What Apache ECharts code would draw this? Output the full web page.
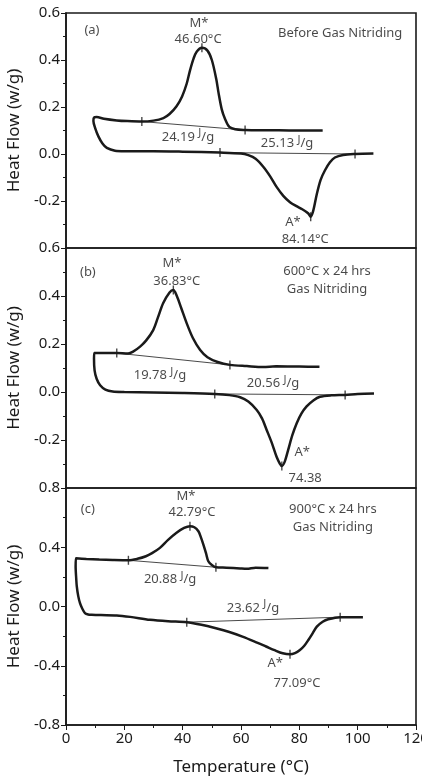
<!DOCTYPE html>
<html>
<head>
<meta charset="utf-8">
<script src="https://cdn.jsdelivr.net/npm/echarts@6/dist/echarts.min.js"></script>
<style>
  html, body { margin: 0; padding: 0; background: #fff; }
  #chart { width: 422px; height: 779px; }
</style>
</head>
<body>
<div id="chart"></div>
<script>
// (a) Before gas nitriding: cooling loop then heating, [T, heat flow]
const loopA = [
    [88.0, 0.100], [80, 0.100], [73, 0.101], [66, 0.101], [61.4, 0.102], [58, 0.105],
    [56, 0.115], [54.5, 0.15], [53.4, 0.19], [52.3, 0.26], [51.5, 0.32], [50.0, 0.40],
    [48.5, 0.44], [46.6, 0.452], [44.8, 0.435], [43.7, 0.405], [42.5, 0.355], [41.4, 0.30],
    [39.8, 0.245], [37.9, 0.203], [35.5, 0.17], [33.4, 0.153], [30, 0.142], [26.0, 0.138],
    [21, 0.14], [17.4, 0.143], [13, 0.15], [10.5, 0.157], [9.6, 0.155], [9.4, 0.14],
    [10.0, 0.11], [11.1, 0.075], [12.5, 0.045], [14, 0.026], [16.8, 0.014], [20, 0.012],
    [30, 0.012], [40, 0.010], [52.8, 0.006], [60, 0.002], [62.5, -0.005], [65, -0.02],
    [67.7, -0.055], [70, -0.095], [72.2, -0.14], [74.5, -0.178], [76.8, -0.205], [79, -0.222],
    [81, -0.235], [83, -0.252], [83.9, -0.267], [84.8, -0.24], [86.0, -0.17], [87.3, -0.11],
    [88.8, -0.069], [90.5, -0.035], [92.2, -0.015], [95, -0.004], [99.1, 0.0], [105.4, 0.002]
];
const baseA = [[[26.0, 0.138], [61.4, 0.102]], [[52.8, 0.006], [99.1, 0.0]]];
const marksA = [[26.0, 0.138], [61.4, 0.102], [46.6, 0.452], [52.8, 0.006], [99.1, 0.0], [83.9, -0.267]];
const textA = [
    [8.9, 0.525, '(a)'], [45.6, 0.555, 'M*'], [45.3, 0.486, '46.60°C'],
    [94, 0.512, 'Before Gas Nitriding'], [41.8, 0.073, '24.19 {s|J}/g'],
    [75.8, 0.047, '25.13 {s|J}/g'], [77.8, -0.292, 'A*'], [82, -0.361, '84.14°C']
];

// (b) 600°C x 24 hrs
const loopB = [
    [86.9, 0.105], [80, 0.106], [72, 0.107], [67.6, 0.104], [62, 0.108], [56.2, 0.113],
    [52, 0.125], [48.5, 0.145], [46, 0.175], [43.5, 0.225], [41.4, 0.286], [39.5, 0.35],
    [38, 0.40], [36.8, 0.425], [35.5, 0.415], [33.3, 0.37], [31.5, 0.31], [29.9, 0.258],
    [27.5, 0.215], [25.4, 0.189], [23, 0.168], [21.3, 0.16], [17.4, 0.162], [13, 0.162],
    [9.7, 0.162], [9.6, 0.14], [9.8, 0.09], [10.5, 0.055], [11.7, 0.028], [13.5, 0.01],
    [16, 0.002], [20, 0.0], [30, -0.002], [40, -0.004], [51, -0.008], [56, -0.013],
    [59.7, -0.022], [62.5, -0.04], [65.4, -0.075], [67.2, -0.11], [68.8, -0.158], [70.5, -0.21],
    [72.2, -0.27], [73.3, -0.298], [74.0, -0.308], [75.0, -0.29], [76.2, -0.24], [77.6, -0.18],
    [79.1, -0.13], [80.7, -0.09], [82.5, -0.06], [84.8, -0.035], [87.1, -0.02], [91, -0.014],
    [95.7, -0.012], [100, -0.008], [105.6, -0.006]
];
const baseB = [[[17.4, 0.162], [56.2, 0.113]], [[51, -0.008], [95.7, -0.012]]];
const marksB = [[17.4, 0.162], [56.2, 0.113], [36.8, 0.425], [51, -0.008], [95.7, -0.012], [74.0, -0.308]];
const textB = [
    [7.5, 0.5, '(b)'], [36.3, 0.538, 'M*'], [38, 0.4625, '36.83°C'],
    [89.5, 0.504, '600°C x 24 hrs'], [89.5, 0.43, 'Gas Nitriding'],
    [32.2, 0.071, '19.78 {s|J}/g'], [71, 0.0375, '20.56 {s|J}/g'],
    [81, -0.25, 'A*'], [82, -0.358, '74.38']
];

// (c) 900°C x 24 hrs
const loopC = [
    [69.4, 0.26], [65, 0.262], [62, 0.255], [59.7, 0.257], [55, 0.262], [51.4, 0.265],
    [50, 0.28], [48.8, 0.305], [48.0, 0.36], [47.1, 0.418], [46.2, 0.47], [45.4, 0.508],
    [44, 0.535], [42.5, 0.542], [40.5, 0.53], [37.9, 0.498], [35, 0.45], [32.2, 0.396],
    [29.5, 0.36], [27.4, 0.339], [24.5, 0.322], [21.4, 0.312], [16, 0.314], [11.4, 0.317],
    [7, 0.321], [3.4, 0.325], [3.3, 0.27], [3.5, 0.19], [3.7, 0.136], [4.2, 0.07],
    [4.8, 0.023], [5.6, -0.015], [6.5, -0.045], [7.6, -0.054], [8.8, -0.056], [12, -0.058],
    [17.4, -0.06], [22, -0.07], [28.8, -0.09], [35, -0.1], [41.4, -0.106], [46, -0.122],
    [51.4, -0.147], [56, -0.172], [60.5, -0.203], [64.5, -0.235], [68.6, -0.27], [71.5, -0.295],
    [74.3, -0.316], [76.8, -0.323], [78.5, -0.315], [80.2, -0.294], [81.7, -0.265], [83.1, -0.226],
    [84.6, -0.18], [86.0, -0.136], [88, -0.103], [89.9, -0.086], [94.0, -0.072], [101.8, -0.072]
];
const baseC = [[[21.4, 0.312], [51.4, 0.265]], [[41.4, -0.106], [94.0, -0.072]]];
const marksC = [[21.4, 0.312], [51.4, 0.265], [42.5, 0.542], [41.4, -0.106], [94.0, -0.072], [76.8, -0.323]];
const textC = [
    [7.5, 0.656, '(c)'], [41.1, 0.744, 'M*'], [43.2, 0.635, '42.79°C'],
    [91.5, 0.656, '900°C x 24 hrs'], [91.5, 0.534, 'Gas Nitriding'],
    [35.7, 0.181, '20.88 {s|J}/g'], [64.1, -0.009, '23.62 {s|J}/g'],
    [71.7, -0.382, 'A*'], [79.2, -0.517, '77.09°C']
];

// y ranges per panel: [min, max, interval]
const yRanges = [[-0.4, 0.6, 0.2], [-0.4, 0.6, 0.2], [-0.8, 0.8, 0.4]];
const xTicks = [0, 120, 20];

const FONT = 'Noto Sans';
const INK = '#1a1a1a';

const chart = echarts.init(document.getElementById('chart'));

const grids = [
    { left: 66, right: 6, top: 13, height: 235 },
    { left: 66, right: 6, top: 248, height: 240 },
    { left: 66, right: 6, top: 488, height: 237 }
].map(g => Object.assign(g, {
    show: true, borderColor: INK, borderWidth: 1.6, backgroundColor: 'transparent',
    containLabel: false, outerBoundsMode: 'none'
}));

const xAxes = grids.map((g, i) => ({
    type: 'value', gridIndex: i, min: xTicks[0], max: xTicks[1], interval: xTicks[2],
    show: i === 2,
    name: i === 2 ? 'Temperature (°C)' : '',
    nameLocation: 'middle', nameGap: 34,
    nameTextStyle: { fontFamily: FONT, fontSize: 17, color: INK },
    axisLine: { onZero: false, lineStyle: { color: INK, width: 1.6 } },
    axisTick: { length: 5, lineStyle: { color: INK } },
    minorTick: { show: true, splitNumber: 2, length: 3, lineStyle: { color: INK } },
    axisLabel: { fontFamily: FONT, fontSize: 15, color: INK, margin: 6 },
    splitLine: { show: false }
}));

const yAxes = yRanges.map((r, i) => ({
    type: 'value', gridIndex: i, min: r[0], max: r[1], interval: r[2],
    name: 'Heat Flow (w/g)', nameLocation: 'middle', nameGap: 33,
    nameTextStyle: { fontFamily: FONT, fontSize: 17, color: INK },
    axisLine: { show: true, onZero: false, lineStyle: { color: INK, width: 1.6 } },
    axisTick: { show: true, length: 5, lineStyle: { color: INK } },
    minorTick: { show: true, splitNumber: 2, length: 3, lineStyle: { color: INK } },
    axisLabel: {
        fontFamily: FONT, fontSize: 15, color: INK, margin: 6,
        showMinLabel: i === 2,
        formatter: v => v.toFixed(1)
    },
    splitLine: { show: false }
}));

const panels = [[loopA, baseA, marksA, textA], [loopB, baseB, marksB, textB], [loopC, baseC, marksC, textC]];
const series = [];
panels.forEach(([loop, base, marks, texts], i) => {
    series.push({
        type: 'line', xAxisIndex: i, yAxisIndex: i, data: loop, smooth: 0.3,
        showSymbol: false, lineStyle: { color: INK, width: 2.5 }, z: 3
    });
    base.forEach(seg => series.push({
        type: 'line', xAxisIndex: i, yAxisIndex: i, data: seg,
        showSymbol: false, lineStyle: { color: INK, width: 0.8 }, z: 2
    }));
    series.push({
        type: 'scatter', xAxisIndex: i, yAxisIndex: i, data: marks,
        symbol: 'rect', symbolSize: [1.4, 9], itemStyle: { color: INK }, z: 4
    });
    series.push({
        type: 'scatter', xAxisIndex: i, yAxisIndex: i, symbolSize: 0, z: 5,
        data: texts.map(t => ({ value: [t[0], t[1]], name: t[2] })),
        label: {
            show: true, position: 'inside', formatter: p => p.name,
            fontFamily: FONT, fontSize: 13, color: INK,
            rich: { s: { fontFamily: FONT, fontSize: 11, color: INK, padding: [0, 0, 7, 0] } }
        }
    });
});

chart.setOption({
    animation: false,
    backgroundColor: '#fff',
    grid: grids,
    xAxis: xAxes,
    yAxis: yAxes,
    series
});
</script>
</body>
</html>
